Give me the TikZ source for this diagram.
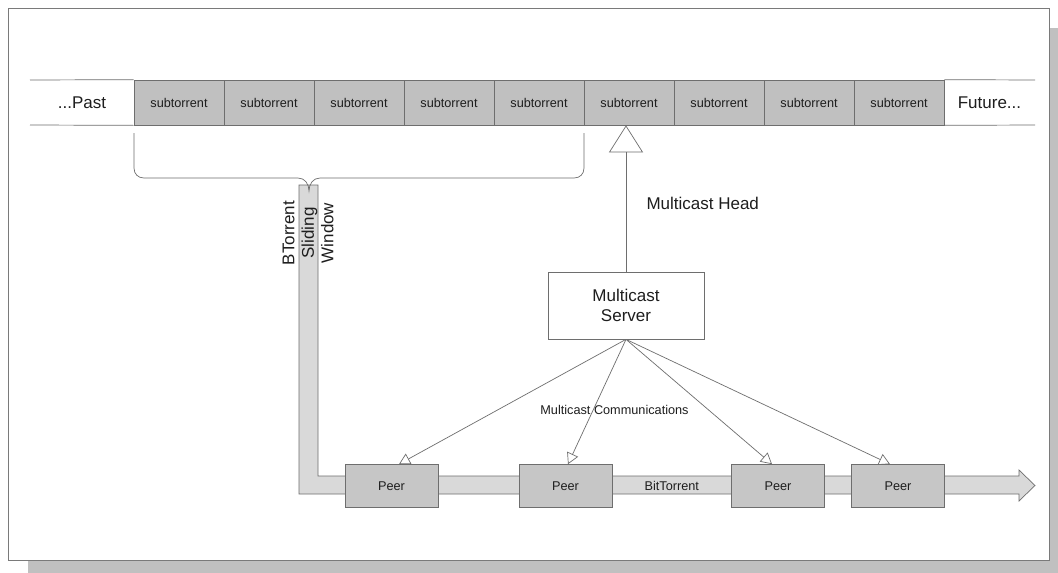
\documentclass[tikz,border=0pt]{standalone}
\usepackage{fontspec}
\setmainfont{Liberation Sans}
\usetikzlibrary{arrows.meta,calc}
\definecolor{ink}{HTML}{1E1E1E}
\definecolor{edge}{HTML}{6E6E6E}
\definecolor{frameline}{HTML}{7A7A7A}
\definecolor{shadow}{HTML}{C0C0C0}
\definecolor{cellgray}{HTML}{C0C0C0}
\definecolor{bandgray}{HTML}{D9D9D9}
\definecolor{peergray}{HTML}{C6C6C6}
\begin{document}
\begin{tikzpicture}[x=1pt,y=-1pt,
  line/.style={draw=edge, line width=0.7pt},
  txt/.style={font=\fontsize{12.7}{15}\selectfont, text=ink},
  big/.style={font=\fontsize{17}{19.5}\selectfont, text=ink},
  cell/.style={line, fill=cellgray, minimum width=90pt, minimum height=45pt, inner sep=0pt, txt},
  peer/.style={line, fill=peergray, minimum width=93pt, minimum height=43pt, inner sep=0pt, txt},
  server/.style={line, fill=white, minimum width=156pt, minimum height=67pt, inner sep=0pt, align=center, font=\fontsize{17}{20}\selectfont, text=ink},
  cast/.style={line, -{Triangle[open, length=11pt, width=12pt]}},
  head/.style={line, -{Triangle[open, length=27pt, width=34pt]}}
]
\useasboundingbox (0,0) rectangle (1058,573);

% page frame with drop shadow
\fill[shadow] (28,28) rectangle (1058,573);
\draw[draw=frameline, fill=white, line width=0.8pt] (8,8) rectangle (1049,560);

% timeline of subtorrents
\foreach \i in {1,...,9} {
  \node[cell] (c\i) at ({134+90*(\i-1)+45},102.5) {subtorrent};
}
\draw[line] (30,80) -- (c1.north west);
\draw[line] (30,125) -- (c1.south west);
\draw[line] (c9.north east) -- (1035,80);
\draw[line] (c9.south east) -- (1035,125);
\node[big] (past) at (82,102.5) {...Past};
\node[big] (future) at (989.5,102.5) {Future...};

% bent BitTorrent band arrow
\path[line, fill=bandgray] (299,185) -- (299,494) -- (1019,494) -- (1019,501)
  -- (1035,485.5) -- (1019,470) -- (1019,476) -- (318,476) -- (318,185) -- cycle;

% brace over the sliding window
\draw[line] (134,133) -- (134,168) .. controls (134,174) and (138,178) .. (144,178)
  -- (298,178) .. controls (305,178) and (309,184) .. (309,191)
  .. controls (309,184) and (313,178) .. (320,178)
  -- (574,178) .. controls (580,178) and (584,174) .. (584,168) -- (584,133);

\node[big, rotate=90, align=center] (win) at (308,233) {BTorrent\\Sliding\\Window};

% peers on the band
\node[peer] (p1) at (391.5,486) {Peer};
\node[peer] (p2) at (565.5,486) {Peer};
\node[peer] (p3) at (778,486) {Peer};
\node[peer] (p4) at (898,486) {Peer};
\node[txt] (bt) at ($(p2.east)!0.5!(p3.west)$) {BitTorrent};

% multicast server
\node[server] (ms) at (626,305.5) {Multicast\\Server};
\draw[head] (ms.north) -- (ms.north |- c6.south);
\node[big, anchor=west] (mh) at (643,203) {Multicast Head};

\draw[cast] (ms.south) -- ([xshift=7.5pt]p1.north);
\draw[cast] (ms.south) -- ([xshift=2.5pt]p2.north);
\draw[cast] (ms.south) -- ([xshift=-6pt]p3.north);
\draw[cast] (ms.south) -- ([xshift=-8pt]p4.north);
\node[txt] (mc) at (614.5,410) {Multicast Communications};
\end{tikzpicture}
\end{document}
